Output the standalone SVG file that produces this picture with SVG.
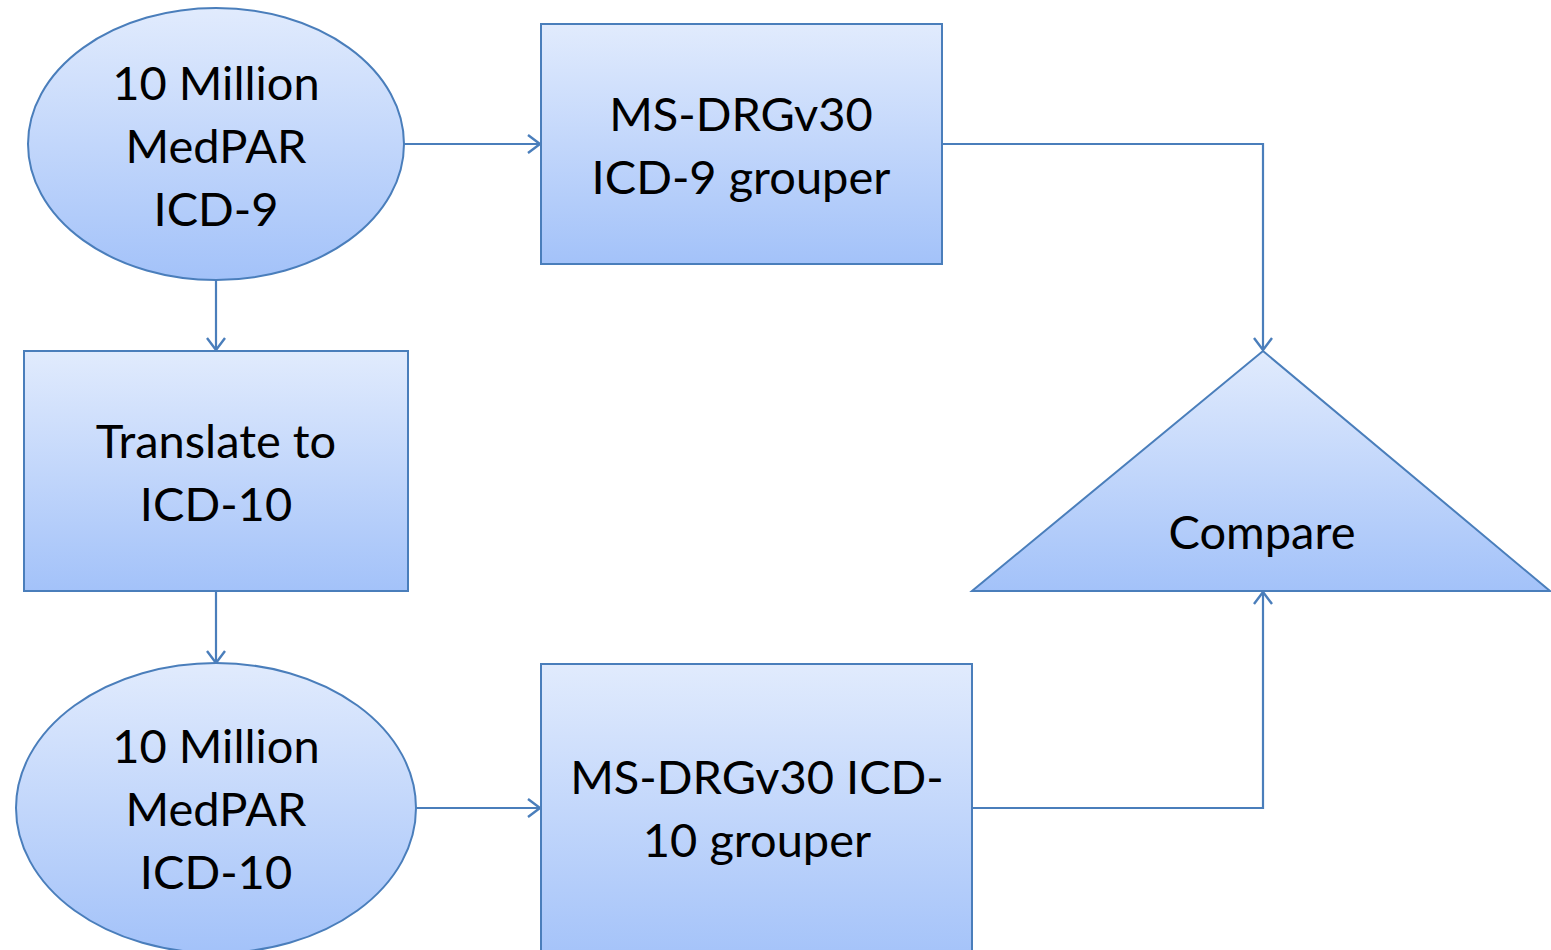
<svg xmlns="http://www.w3.org/2000/svg" width="1551" height="950" viewBox="0 0 1551 950">
<defs>
<linearGradient id="g" x1="0" y1="0" x2="0" y2="1">
<stop offset="0" stop-color="#e1ebfd"/>
<stop offset="1" stop-color="#a3c2f9"/>
</linearGradient>
<marker id="arr" markerWidth="20" markerHeight="20" viewBox="0 0 20 20" refX="18" refY="10" orient="auto" markerUnits="userSpaceOnUse">
<path d="M6,1 L18,10 L6,19" fill="none" stroke="#4a7ebb" stroke-width="2.4"/>
</marker>
</defs>
<style>
.shape{fill:url(#g);stroke:#4a7ebb;stroke-width:2}
.t{font-family:Lato,"Open Sans","Liberation Sans",sans-serif;font-size:47px;fill:#000;text-anchor:middle}
.c{fill:none;stroke:#4a7ebb;stroke-width:2.2;marker-end:url(#arr)}
</style>
<rect width="1551" height="950" fill="#fff"/>
<g id="connectors">
<path class="c" d="M404,144 H540"/>
<path class="c" d="M216,280 V350"/>
<path class="c" d="M216,591 V663"/>
<path class="c" d="M416,808 H540"/>
<path class="c" d="M942,144 H1263 V350"/>
<path class="c" d="M972,808 H1263 V592"/>
</g>
<g id="n1">
<ellipse class="shape" cx="216" cy="144" rx="188" ry="136"/>
<text class="t" x="216" y="100">10 Million</text>
<text class="t" x="216" y="163">MedPAR</text>
<text class="t" x="216" y="226">ICD-9</text>
</g>
<g id="n2">
<rect class="shape" x="541" y="24" width="401" height="240"/>
<text class="t" x="741" y="131">MS-DRGv30</text>
<text class="t" x="741" y="194">ICD-9 grouper</text>
</g>
<g id="n3">
<rect class="shape" x="24" y="351" width="384" height="240"/>
<text class="t" x="216" y="458">Translate to</text>
<text class="t" x="216" y="521">ICD-10</text>
</g>
<g id="n4">
<ellipse class="shape" cx="216" cy="808" rx="200" ry="145"/>
<text class="t" x="216" y="763">10 Million</text>
<text class="t" x="216" y="826">MedPAR</text>
<text class="t" x="216" y="889">ICD-10</text>
</g>
<g id="n5">
<rect class="shape" x="541" y="664" width="431" height="300"/>
<text class="t" x="757" y="794">MS-DRGv30 ICD-</text>
<text class="t" x="757" y="857">10 grouper</text>
</g>
<g id="n6">
<polygon class="shape" points="1263,351 1550,591 972,591"/>
<text class="t" x="1262" y="549">Compare</text>
</g>
</svg>
